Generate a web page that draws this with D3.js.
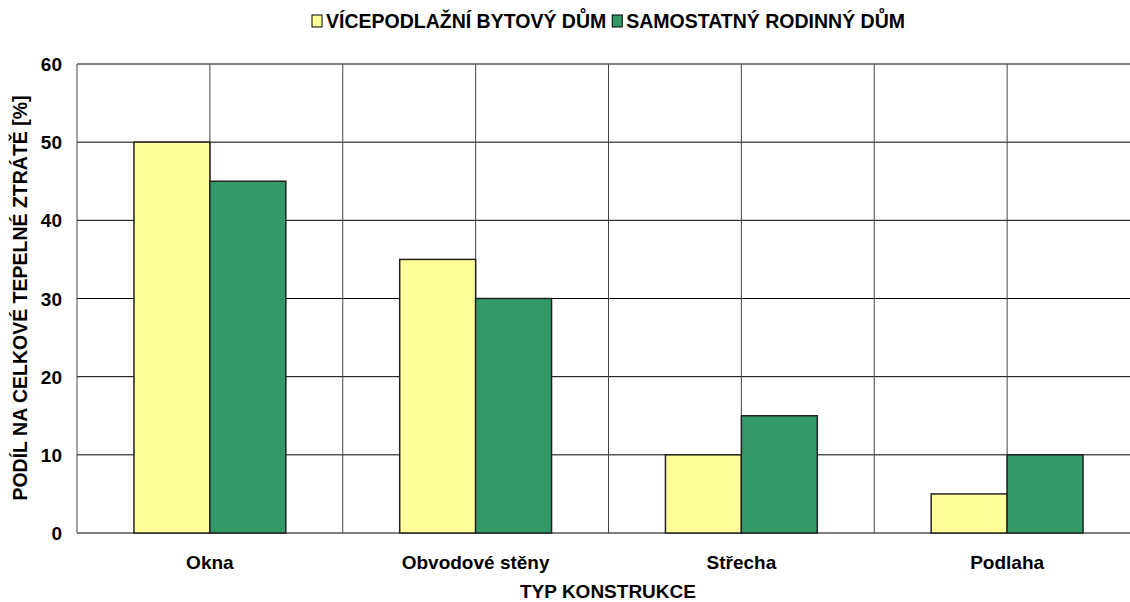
<!DOCTYPE html>
<html lang="cs">
<head>
<meta charset="UTF-8">
<title>Podíl na celkové tepelné ztrátě</title>
<script src="https://d3js.org/d3.v7.min.js"></script>
<style>
    body { margin: 0; background: #fff; }
    svg { display: block; font-family: "Liberation Sans", Arial, sans-serif; font-weight: bold; }
</style>
</head>
<body>
<svg id="chart"></svg>
<script>
    const categories = ["Okna", "Obvodové stěny", "Střecha", "Podlaha"];
    const seriesNames = ["VÍCEPODLAŽNÍ BYTOVÝ DŮM", "SAMOSTATNÝ RODINNÝ DŮM"];
    const bytovy = [50, 35, 10, 5];
    const rodinny = [45, 30, 15, 10];
    const yTicks = [0, 10, 20, 30, 40, 50, 60];
    const colors = ["#FFFF99", "#339966"];

    const width = 1130, height = 602;
    const plotL = 77, plotR = 1140, plotT = 64, plotB = 533;
    const fs = 19;

    const svg = d3.select("#chart").attr("width", width).attr("height", height);

    const x = d3.scaleBand().domain(categories).range([plotL, plotR]);
    const y = d3.scaleLinear().domain([0, 60]).range([plotB, plotT]);
    const barW = x.bandwidth() / 3.5;

    // horizontal grid
    svg.append("g").selectAll("line").data(yTicks).join("line")
        .attr("x1", plotL).attr("x2", plotR)
        .attr("y1", d => y(d)).attr("y2", d => y(d))
        .attr("stroke", "#000").attr("stroke-width", 1);

    // vertical grid (category boundaries and centres)
    const vlines = [];
    categories.forEach(c => {
        vlines.push(x(c));
        vlines.push(x(c) + x.bandwidth() / 2);
    });
    vlines.push(plotR);
    svg.append("g").selectAll("line").data(vlines).join("line")
        .attr("x1", d => d).attr("x2", d => d)
        .attr("y1", plotT).attr("y2", plotB)
        .attr("stroke", "#444").attr("stroke-width", 1);

    // bars
    [bytovy, rodinny].forEach((vals, s) => {
        svg.append("g").selectAll("rect").data(vals).join("rect")
            .attr("x", (d, i) => x(categories[i]) + x.bandwidth() / 2 + (s - 1) * barW)
            .attr("y", d => y(d))
            .attr("width", barW)
            .attr("height", d => y(0) - y(d))
            .attr("fill", colors[s])
            .attr("stroke", "#222").attr("stroke-width", 1.5);
    });

    // y axis labels
    svg.append("g").selectAll("text").data(yTicks).join("text")
        .attr("x", 62).attr("y", d => y(d) + 7)
        .attr("text-anchor", "end").attr("font-size", fs)
        .text(d => d);

    // x labels
    svg.append("g").selectAll("text").data(categories).join("text")
        .attr("x", d => x(d) + x.bandwidth() / 2).attr("y", 569)
        .attr("text-anchor", "middle").attr("font-size", fs)
        .text(d => d);

    svg.append("text").attr("x", 608).attr("y", 598)
        .attr("text-anchor", "middle").attr("font-size", fs)
        .text("TYP KONSTRUKCE");

    svg.append("text")
        .attr("transform", "translate(27,298) rotate(-90)")
        .attr("text-anchor", "middle").attr("font-size", 19.5)
        .text("PODÍL NA CELKOVÉ TEPELNÉ ZTRÁTĚ [%]");

    // legend
    const legend = svg.append("g");
    let lx = 312;
    seriesNames.forEach((name, s) => {
        legend.append("rect").attr("x", lx).attr("y", 15).attr("width", 10).attr("height", 12)
            .attr("fill", colors[s]).attr("stroke", "#000").attr("stroke-width", 1);
        const t = legend.append("text").attr("x", lx + 14).attr("y", 28)
            .attr("font-size", 19.5).text(name);
        lx += 14 + t.node().getComputedTextLength() + 6;
    });
</script>
</body>
</html>
